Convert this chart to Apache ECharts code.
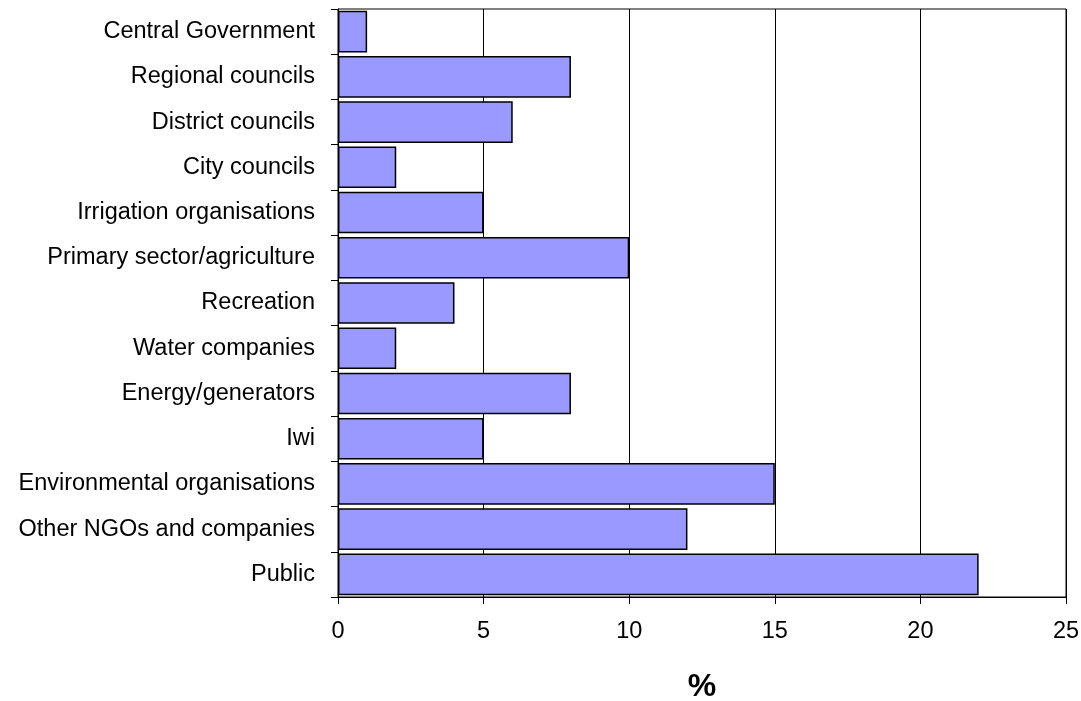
<!DOCTYPE html>
<html>
<head>
<meta charset="utf-8">
<script src="https://cdn.jsdelivr.net/npm/echarts@6/dist/echarts.min.js"></script>
<style>
  html, body { margin: 0; padding: 0; background: #fff; }
  #chart { width: 1081px; height: 701px; }
</style>
</head>
<body>
<div id="chart"></div>
<script>
// categories listed top to bottom as in the picture
const categories = [
  'Central Government', 'Regional councils', 'District councils', 'City councils',
  'Irrigation organisations', 'Primary sector/agriculture', 'Recreation',
  'Water companies', 'Energy/generators', 'Iwi', 'Environmental organisations',
  'Other NGOs and companies', 'Public'
];
const percents = [1, 8, 6, 2, 5, 10, 4, 2, 8, 5, 15, 12, 22];
const xTicks = [0, 5, 10, 15, 20, 25];

let myChart = echarts.init(document.getElementById('chart'));

let option = {
  animation: false,
  grid: {
    left: 338, right: 15, top: 9, bottom: 104,
    outerBoundsMode: 'none',
    containLabel: false,
    show: true, borderColor: '#000', borderWidth: 1
  },
  xAxis: {
    type: 'value',
    min: xTicks[0], max: xTicks[xTicks.length - 1], interval: 5,
    name: '%',
    nameLocation: 'middle',
    nameGap: 74,
    nameTextStyle: { fontFamily: 'Liberation Sans', fontSize: 32, fontWeight: 'bold', color: '#000' },
    axisLine: { show: true, lineStyle: { color: '#000' } },
    axisTick: { show: true, length: 7, lineStyle: { color: '#000' } },
    axisLabel: { fontFamily: 'Liberation Sans', fontSize: 23.5, color: '#000', margin: 23 },
    splitLine: { show: true, lineStyle: { color: '#000', width: 1 } }
  },
  yAxis: {
    type: 'category',
    inverse: true,
    data: categories,
    axisLine: { show: true, lineStyle: { color: '#000' } },
    axisTick: { show: true, length: 7, alignWithLabel: false, lineStyle: { color: '#000' } },
    axisLabel: { fontFamily: 'Liberation Sans', fontSize: 23.5, color: '#000', margin: 23 },
    splitLine: { show: false }
  },
  series: [{
    type: 'bar',
    data: percents,
    barCategoryGap: '8%',
    itemStyle: { color: '#9999FF', borderColor: '#000', borderWidth: 1.5 }
  }]
};

myChart.setOption(option);
</script>
</body>
</html>
